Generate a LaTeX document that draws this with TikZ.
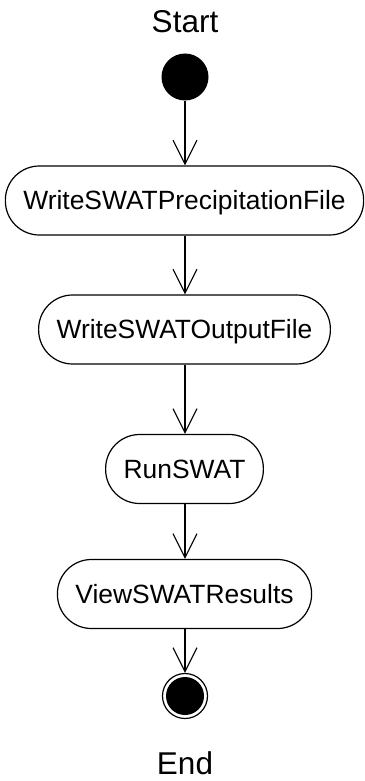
\documentclass[tikz,border=0pt]{standalone}
\usepackage{fontspec}
\setmainfont{Liberation Sans}
\usetikzlibrary{arrows.meta}
\tikzset{
  actn/.style={shape=rectangle,draw=black,line width=1.2pt,rounded corners=34pt,
    minimum height=69pt,inner xsep=18pt,text height=18.8pt,text depth=0pt,
    font=\fontsize{26.4}{30}\selectfont},
  flow/.style={line width=1.1pt,-{Straight Barb[length=24pt,width=24pt]}},
  lbl/.style={inner sep=0pt,font=\fontsize{31.5}{36}\selectfont}
}
\begin{document}
\begin{tikzpicture}[x=1pt,y=1pt]
 \useasboundingbox (0,0) rectangle (364,-781);
 \node (start lbl) at (185,-21.5) [lbl] {Start};
 \node (start) at (185,-77) [shape=circle,fill=black,minimum size=47pt,inner sep=0pt] {};
 \node (actn 1) at (184.5,-200.5) [actn] {WriteSWATPrecipitationFile};
 \node (actn 2) at (184.5,-329.5) [actn] {WriteSWATOutputFile};
 \node (actn 3) at (184.5,-469) [actn] {RunSWAT};
 \node (actn 4) at (184.5,-594) [actn] {ViewSWATResults};
 \node (end) at (185,-696) [shape=circle,draw=black,line width=1.2pt,minimum size=45pt,inner sep=0pt,
   path picture={\fill[black] (path picture bounding box.center) circle (19pt);}] {};
 \node (end lbl) at (185,-763) [lbl] {End};
 \draw[flow] (start) -- (start |- actn 1.north);
 \draw[flow] (actn 1.south -| start) -- (start |- actn 2.north);
 \draw[flow] (actn 2.south -| start) -- (start |- actn 3.north);
 \draw[flow] (actn 3.south -| start) -- (start |- actn 4.north);
 \draw[flow] (actn 4.south -| start) -- (end);
\end{tikzpicture}
\end{document}
